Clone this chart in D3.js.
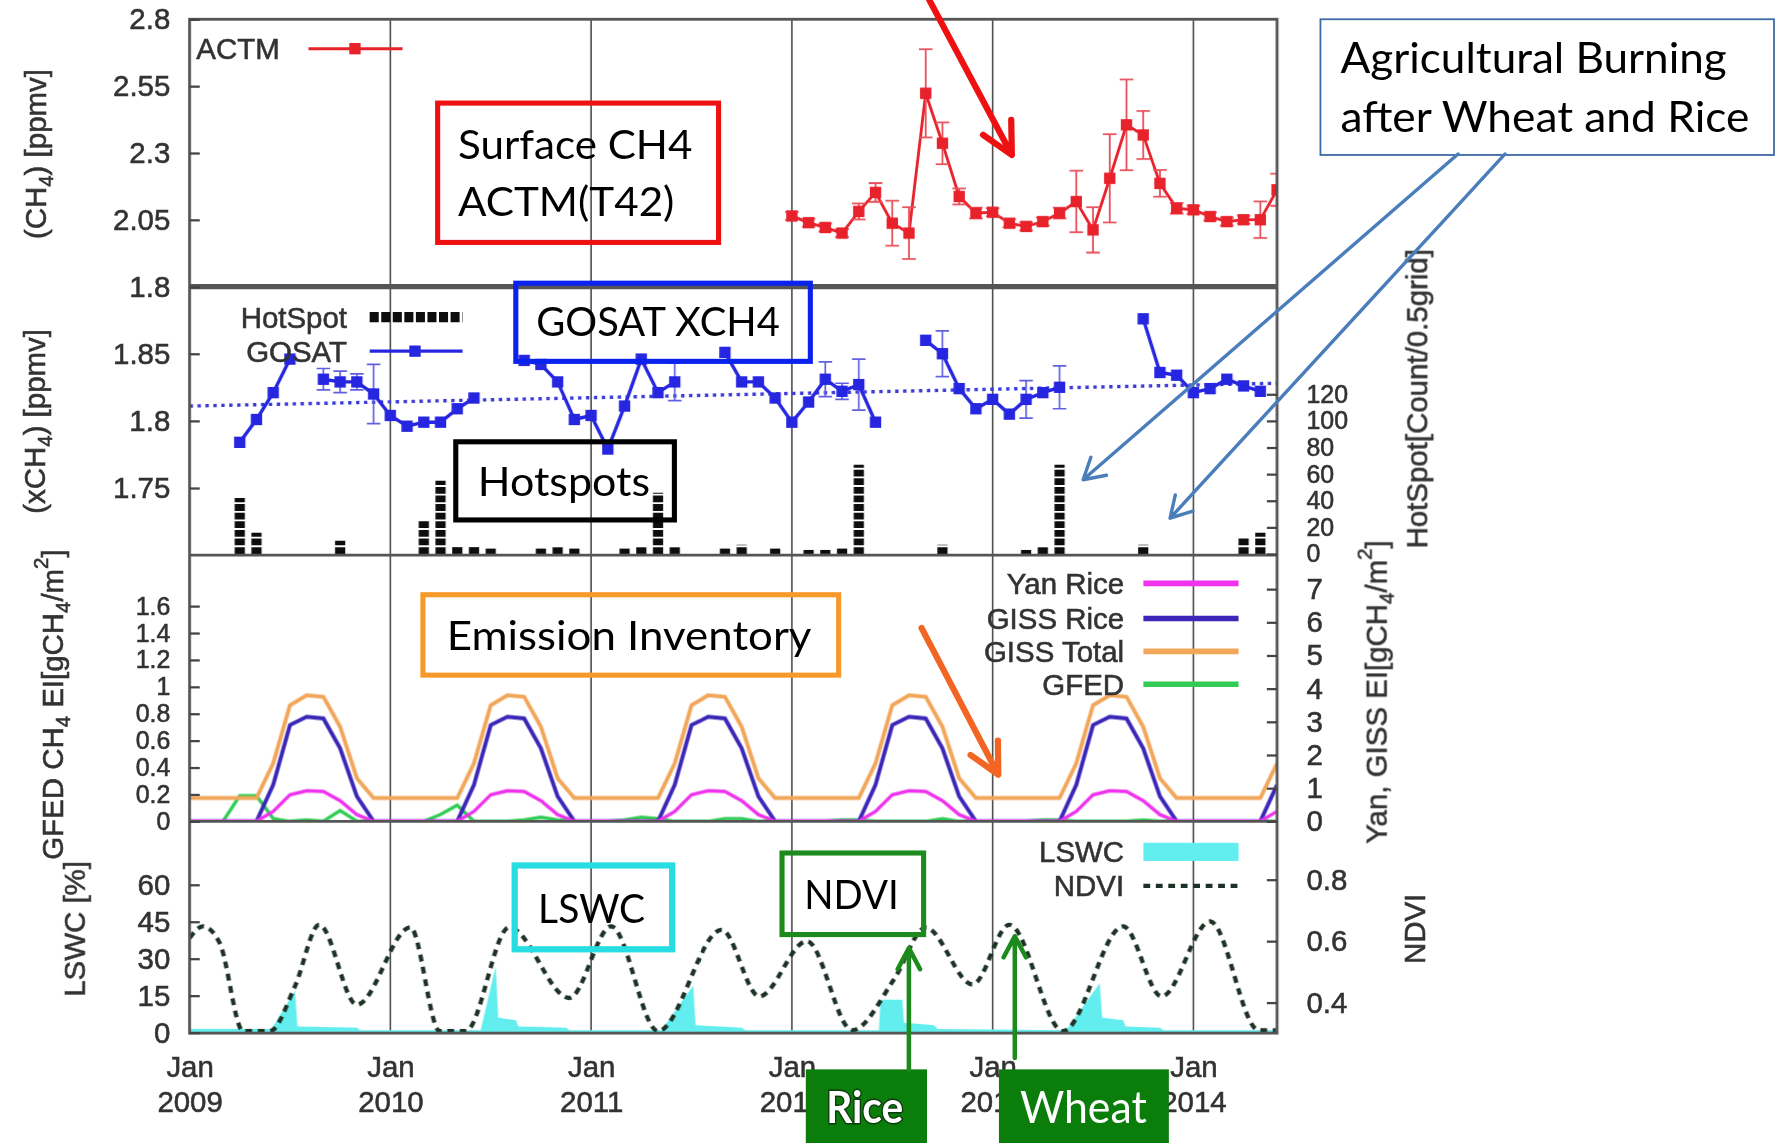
<!DOCTYPE html>
<html>
<head>
<meta charset="utf-8">
<script src="https://cdn.jsdelivr.net/npm/d3@7"></script>
<style>
  body { margin: 0; background: #fff; }
  svg { display: block; }
  .axis text, .lbl { font-family: "Liberation Sans", Arial, sans-serif; font-size: 26px; fill: #333; stroke: #333; stroke-width: 0.5px; }
  .axis line { stroke: #444; stroke-width: 2; }
  .tight-axis text { font-size: 22px; }
  .note { font-family: Lato, "Open Sans", sans-serif; fill: #000; }
</style>
</head>
<body>
<svg id="chart"></svg>
<script>
// x is counted in months from Jan 2009 (0 = Jan 2009, 60 = Jan 2014)
const yearTicks = [0, 12, 24, 36, 48, 60];
const yearLabels = ["2009", "2010", "2011", "2012", "2013", "2014"];

// surface CH4 from ACTM, monthly from Jan 2012
const actmStart = 36;
const actmValues = [2.064, 2.039, 2.021, 2.000, 2.081, 2.152, 2.037, 2.000, 2.523, 2.336,
  2.137, 2.075, 2.078, 2.037, 2.025, 2.043, 2.075, 2.118, 2.012, 2.205,
  2.405, 2.367, 2.186, 2.093, 2.087, 2.062, 2.043, 2.050, 2.050, 2.162];
const actmErr = [0.015, 0.015, 0.015, 0.015, 0.03, 0.035, 0.084, 0.097, 0.165, 0.078,
  0.03, 0.02, 0.015, 0.015, 0.015, 0.015, 0.02, 0.115, 0.085, 0.165,
  0.17, 0.09, 0.05, 0.02, 0.015, 0.015, 0.015, 0.015, 0.068, 0.06];

// GOSAT XCH4, monthly from Jan 2009 (null = no retrieval)
const gosatValues = [null, null, null, 1.784, 1.801, 1.821, 1.846, null, 1.831, 1.829, 1.829, 1.820,
  1.804, 1.796, 1.799, 1.799, 1.809, 1.817, null, null, 1.845, 1.842, 1.829, 1.801,
  1.804, 1.779, 1.811, 1.846, 1.821, 1.829, null, null, 1.851, 1.829, 1.829, 1.817,
  1.799, 1.814, 1.831, 1.822, 1.827, 1.799, null, null, 1.860, 1.850, 1.824, 1.809,
  1.816, 1.805, 1.816, 1.821, 1.825, null, null, null, null, 1.876, 1.836, 1.834,
  1.821, 1.824, 1.831, 1.826, 1.822];
const gosatErr = [0, 0, 0, 0.003, 0.003, 0.003, 0.003, 0, 0.008, 0.008, 0.006, 0.022,
  0.004, 0.003, 0.003, 0.003, 0.003, 0.003, 0, 0, 0.004, 0.004, 0.004, 0.003,
  0.003, 0.003, 0.003, 0.004, 0.004, 0.014, 0, 0, 0.004, 0.004, 0.004, 0.003,
  0.003, 0.004, 0.013, 0.006, 0.019, 0.003, 0, 0, 0.004, 0.017, 0.004, 0.003,
  0.004, 0.004, 0.014, 0.005, 0.016, 0, 0, 0, 0, 0.004, 0.004, 0.004,
  0.004, 0.004, 0.004, 0.004, 0.004];
const gosatTrendMonths = [0, 65];
const gosatTrend = [1.811, 1.828];

// hotspot counts, monthly from Jan 2009
const hotspotValues = [0, 0, 0, 42, 16, 0, 0, 0, 0, 10, 0, 0,
  0, 0, 25, 55, 6, 6, 4, 0, 0, 4, 5, 4,
  0, 0, 4, 5, 46, 5, 0, 0, 4, 7, 0, 4,
  0, 3, 3, 4, 67, 0, 0, 0, 0, 7, 0, 0,
  0, 0, 3, 5, 67, 0, 0, 0, 0, 7, 0, 0,
  0, 0, 0, 12, 16];

// emission inventories, monthly from Jan 2009 to Jun 2014
const yanRice = [0, 0, 0, 0, 0, 0.3, 0.8, 0.92, 0.9, 0.62, 0.2, 0,
  0, 0, 0, 0, 0, 0.3, 0.8, 0.92, 0.9, 0.62, 0.2, 0,
  0, 0, 0, 0, 0, 0.3, 0.8, 0.92, 0.9, 0.62, 0.2, 0,
  0, 0, 0, 0, 0, 0.3, 0.8, 0.92, 0.9, 0.62, 0.2, 0,
  0, 0, 0, 0, 0, 0.3, 0.8, 0.92, 0.9, 0.62, 0.2, 0,
  0, 0, 0, 0, 0, 0.3];
const gissRice = [0, 0, 0, 0, 0, 1.1, 2.9, 3.15, 3.1, 2.2, 0.75, 0,
  0, 0, 0, 0, 0, 1.1, 2.9, 3.15, 3.1, 2.2, 0.75, 0,
  0, 0, 0, 0, 0, 1.1, 2.9, 3.15, 3.1, 2.2, 0.75, 0,
  0, 0, 0, 0, 0, 1.1, 2.9, 3.15, 3.1, 2.2, 0.75, 0,
  0, 0, 0, 0, 0, 1.1, 2.9, 3.15, 3.1, 2.2, 0.75, 0,
  0, 0, 0, 0, 0, 1.1];
const gissTotal = [0.7, 0.7, 0.7, 0.7, 0.7, 1.75, 3.5, 3.8, 3.75, 2.85, 1.3, 0.7,
  0.7, 0.7, 0.7, 0.7, 0.7, 1.75, 3.5, 3.8, 3.75, 2.85, 1.3, 0.7,
  0.7, 0.7, 0.7, 0.7, 0.7, 1.75, 3.5, 3.8, 3.75, 2.85, 1.3, 0.7,
  0.7, 0.7, 0.7, 0.7, 0.7, 1.75, 3.5, 3.8, 3.75, 2.85, 1.3, 0.7,
  0.7, 0.7, 0.7, 0.7, 0.7, 1.75, 3.5, 3.8, 3.75, 2.85, 1.3, 0.7,
  0.7, 0.7, 0.7, 0.7, 0.7, 1.75];
const gfed = [0, 0, 0, 0.19, 0.19, 0.02, 0, 0.01, 0, 0.08, 0, 0,
  0, 0, 0, 0.05, 0.12, 0, 0, 0, 0.01, 0.03, 0.01, 0,
  0, 0, 0.01, 0.03, 0.02, 0, 0, 0, 0.02, 0.02, 0, 0,
  0, 0, 0, 0.01, 0.01, 0, 0, 0, 0, 0.02, 0, 0,
  0, 0, 0, 0.01, 0.01, 0, 0, 0, 0, 0.01, 0, 0,
  0, 0, 0, 0, 0, 0];

// vegetation: NDVI and LSWC curve vertices (month, value)
const ndviMonths = [0, 0.8, 1.8, 3.2, 4.8, 6.3, 7.75, 10.0, 13.2, 14.95, 16.5, 19.1, 22.7, 25.2,
  28.0, 31.8, 34.05, 36.9, 39.6, 42.1, 44.0, 46.8, 49.0, 52.2, 55.8, 58.1, 61.0, 63.9, 64.95];
const ndviValues = [0.61, 0.648, 0.594, 0.307, 0.307, 0.453, 0.653, 0.393, 0.645, 0.307, 0.307, 0.645, 0.415, 0.648,
  0.307, 0.637, 0.42, 0.6, 0.31, 0.475, 0.644, 0.459, 0.653, 0.307, 0.648, 0.42, 0.664, 0.31, 0.31];
const lswcMonths = [0, 4.9, 6.3, 6.45, 10.0, 10.2, 17.4, 18.3, 18.45, 19.5, 19.65, 22.5, 22.7, 28.2,
  30.1, 30.25, 33.0, 33.2, 41.2, 41.3, 42.6, 42.7, 44.5, 44.7, 52.4, 54.4, 54.55, 55.8, 55.95, 58.0, 58.2, 65];
const lswcValues = [1.5, 1.5, 17, 2.5, 2, 1, 1, 27, 6, 5, 2.5, 2, 1, 1,
  19, 3, 2, 1, 1, 13.4, 13.4, 4, 3, 1.5, 1, 20, 6, 5, 2.5, 2, 1, 1];

// tick values
const actmTicks = [1.8, 2.05, 2.3, 2.55, 2.8];
const gosatTicks = [1.75, 1.8, 1.85];
const hotTicks = [0, 20, 40, 60, 80, 100, 120];
const gfedTicks = [0, 0.2, 0.4, 0.6, 0.8, 1, 1.2, 1.4, 1.6];
const eiTicks = [0, 1, 2, 3, 4, 5, 6, 7];
const lswcTicks = [0, 15, 30, 45, 60];
const ndviTicks = [0.4, 0.6, 0.8];

// drawing is done in the 1568x1009 frame and scaled up to the window
const W = 1568, H = 1009;
const left = 167, right = 1127;
const svg = d3.select("#chart")
  .attr("width", 1777).attr("height", 1143)
  .attr("viewBox", `0 0 ${W} ${H}`);

const defs = svg.append("defs");
defs.append("filter").attr("id", "soft")
  .append("feGaussianBlur").attr("stdDeviation", 0.6);

const panels = { actm: [17, 253], gosat: [253, 490], ei: [490, 725], veg: [725, 912] };
Object.entries(panels).forEach(([k, [t, b]]) => {
  defs.append("clipPath").attr("id", "clip-" + k)
    .append("rect").attr("x", left).attr("y", t).attr("width", right - left).attr("height", b - t);
});

const x = d3.scaleLinear().domain([0, 65]).range([left, right]);
const yActm = d3.scaleLinear().domain([1.8, 2.8]).range([253, 17]);
const yGosat = d3.scaleLinear().domain([1.70, 1.90]).range([490, 253]);
const yHot = d3.scaleLinear().domain([0, 120]).range([489, 348]);
const yGfed = d3.scaleLinear().domain([0, 1.6]).range([725, 535]);
const yEi = d3.scaleLinear().domain([0, 7]).range([725, 520]);
const yLswc = d3.scaleLinear().domain([0, 60]).range([911.5, 781]);
const yNdvi = d3.scaleLinear().domain([0.4, 0.8]).range([885, 776.5]);

const g = svg.append("g").attr("filter", "url(#soft)");

// year grid lines
g.selectAll(".grid").data(yearTicks.slice(1)).enter().append("line")
  .attr("x1", d => x(d)).attr("x2", d => x(d))
  .attr("y1", 17).attr("y2", 912)
  .attr("stroke", "#4a4a4a").attr("stroke-width", 1.4);

// ---- vegetation panel (drawn first, under the frame)
const veg = g.append("g").attr("clip-path", "url(#clip-veg)");
const lswcPts = lswcMonths.map((m, i) => [m, lswcValues[i]]);
veg.append("path").datum(lswcPts)
  .attr("fill", "#62eeee")
  .attr("d", d3.area().x(d => x(d[0])).y0(yLswc(0)).y1(d => yLswc(d[1])));
const ndviPts = ndviMonths.map((m, i) => [m, ndviValues[i]]);
veg.append("path").datum(ndviPts)
  .attr("fill", "none").attr("stroke", "#1f3326").attr("stroke-width", 3.8)
  .attr("stroke-dasharray", "6,5")
  .attr("d", d3.line().curve(d3.curveMonotoneX).x(d => x(d[0])).y(d => yNdvi(d[1])));

// ---- emission panel
const ei = g.append("g").attr("clip-path", "url(#clip-ei)");
const eiLine = d3.line().x((d, i) => x(i)).y(d => yEi(d));
ei.append("path").datum(gfed).attr("fill", "none").attr("stroke", "#33cc55").attr("stroke-width", 3)
  .attr("d", d3.line().x((d, i) => x(i)).y(d => yGfed(d)));
ei.append("path").datum(gissTotal).attr("fill", "none").attr("stroke", "#f2a65a").attr("stroke-width", 3.5).attr("d", eiLine);
ei.append("path").datum(gissRice).attr("fill", "none").attr("stroke", "#3a28b8").attr("stroke-width", 3.5).attr("d", eiLine);
ei.append("path").datum(yanRice).attr("fill", "none").attr("stroke", "#ee33ee").attr("stroke-width", 3).attr("d", eiLine);

// ---- GOSAT / hotspot panel
const gp = g.append("g").attr("clip-path", "url(#clip-gosat)");
gp.selectAll(".hot").data(hotspotValues.map((v, i) => [i, v]).filter(d => d[1] > 0)).enter().append("line")
  .attr("x1", d => x(d[0])).attr("x2", d => x(d[0]))
  .attr("y1", yHot(0)).attr("y2", d => yHot(d[1]))
  .attr("stroke", "#111").attr("stroke-width", 9).attr("stroke-dasharray", "6,1.6");
gp.append("line")
  .attr("x1", x(gosatTrendMonths[0])).attr("x2", x(gosatTrendMonths[1]))
  .attr("y1", yGosat(gosatTrend[0])).attr("y2", yGosat(gosatTrend[1]))
  .attr("stroke", "#3b3bd8").attr("stroke-width", 3).attr("stroke-dasharray", "3,4");
const gosatPts = gosatValues.map((v, i) => [i, v, gosatErr[i]]);
gp.append("path").datum(gosatPts)
  .attr("fill", "none").attr("stroke", "#2626e0").attr("stroke-width", 3)
  .attr("d", d3.line().defined(d => d[1] != null).x(d => x(d[0])).y(d => yGosat(d[1])));
const gv = gosatPts.filter(d => d[1] != null);
gp.selectAll(".gerr").data(gv.filter(d => d[2] > 0.005)).enter().append("path")
  .attr("fill", "none").attr("stroke", "#6060e0").attr("stroke-width", 1.5)
  .attr("d", d => {
    const cx = x(d[0]), a = yGosat(d[1] + d[2]), b = yGosat(d[1] - d[2]);
    return `M${cx},${a}V${b}M${cx - 6},${a}H${cx + 6}M${cx - 6},${b}H${cx + 6}`;
  });
gp.selectAll(".gpt").data(gv).enter().append("rect")
  .attr("x", d => x(d[0]) - 5).attr("y", d => yGosat(d[1]) - 5)
  .attr("width", 10).attr("height", 10).attr("fill", "#2626e0");

// ---- ACTM panel
const ap = g.append("g").attr("clip-path", "url(#clip-actm)");
const actmPts = actmValues.map((v, i) => [actmStart + i, v, actmErr[i]]);
ap.append("path").datum(actmPts)
  .attr("fill", "none").attr("stroke", "#e8202a").attr("stroke-width", 2.5)
  .attr("d", d3.line().x(d => x(d[0])).y(d => yActm(d[1])));
ap.selectAll(".aerr").data(actmPts).enter().append("path")
  .attr("fill", "none").attr("stroke", "#e8505a").attr("stroke-width", 1.6)
  .attr("d", d => {
    const cx = x(d[0]), a = yActm(d[1] + d[2]), b = yActm(d[1] - d[2]);
    return `M${cx},${a}V${b}M${cx - 6},${a}H${cx + 6}M${cx - 6},${b}H${cx + 6}`;
  });
ap.selectAll(".apt").data(actmPts).enter().append("rect")
  .attr("x", d => x(d[0]) - 5).attr("y", d => yActm(d[1]) - 5)
  .attr("width", 10).attr("height", 10).attr("fill", "#e8202a");

// ---- frame
g.append("rect").attr("x", left).attr("y", 17).attr("width", right - left).attr("height", 912 - 17)
  .attr("fill", "none").attr("stroke", "#555").attr("stroke-width", 2.5);
[[253, 4.5], [490, 2.5], [725, 2.5]].forEach(([yy, w]) => {
  g.append("line").attr("x1", left).attr("x2", right).attr("y1", yy).attr("y2", yy)
    .attr("stroke", "#555").attr("stroke-width", w);
});

// ---- axes
function leftAxis(scale, ticks) {
  const a = g.append("g").attr("class", "axis").attr("transform", `translate(${left},0)`)
    .call(d3.axisLeft(scale).tickValues(ticks).tickFormat(d => String(d)).tickSize(-9).tickPadding(17));
  a.select(".domain").remove();
  return a;
}
function rightAxis(scale, ticks) {
  const a = g.append("g").attr("class", "axis").attr("transform", `translate(${right},0)`)
    .call(d3.axisRight(scale).tickValues(ticks).tickFormat(d => String(d)).tickSize(-9).tickPadding(26));
  a.select(".domain").remove();
  return a;
}
leftAxis(yActm, actmTicks);
leftAxis(yGosat, gosatTicks);
leftAxis(yGfed, gfedTicks).classed("tight-axis", true);
leftAxis(yLswc, lswcTicks);
rightAxis(yHot, hotTicks).classed("tight-axis", true);
rightAxis(yEi, eiTicks);
rightAxis(yNdvi, ndviTicks);

const xa = g.append("g").attr("class", "axis").attr("transform", "translate(0,912)")
  .call(d3.axisBottom(x).tickValues(yearTicks).tickSize(0));
xa.select(".domain").remove();
xa.selectAll(".tick text").attr("dy", null).text(null).each(function (d, i) {
  const t = d3.select(this);
  t.append("tspan").attr("x", 0).attr("y", 39).text("Jan");
  t.append("tspan").attr("x", 0).attr("y", 70).text(yearLabels[i]);
});

// ---- axis titles (rotated)
function vlabel(cx, cy, parts) {
  const t = g.append("text").attr("class", "lbl")
    .attr("transform", `translate(${cx},${cy}) rotate(-90)`)
    .attr("text-anchor", "middle").attr("dominant-baseline", "central");
  parts.forEach(p => {
    const s = t.append("tspan").text(p[0]);
    if (p[1]) s.attr("baseline-shift", p[1]).attr("font-size", 18);
  });
}
vlabel(31, 136, [["(CH"], ["4", "sub"], [") [ppmv]"]]);
vlabel(30, 372, [["(xCH"], ["4", "sub"], [") [ppmv]"]]);
vlabel(46, 622, [["GFED CH"], ["4", "sub"], [" EI[gCH"], ["4", "sub"], ["/m"], ["2", "super"], ["]"]]);
vlabel(65, 820, [["LSWC [%]"]]);
vlabel(1250, 352, [["HotSpot[Count/0.5grid]"]]);
vlabel(1214, 611, [["Yan, GISS EI[gCH"], ["4", "sub"], ["/m"], ["2", "super"], ["]"]]);
vlabel(1248, 820, [["NDVI"]]);

// ---- legends
function legText(xr, yc, s) {
  g.append("text").attr("class", "lbl").attr("x", xr).attr("y", yc)
    .attr("text-anchor", "end").attr("dominant-baseline", "central").text(s);
}
g.append("text").attr("class", "lbl").attr("x", 173).attr("y", 43)
  .attr("dominant-baseline", "central").text("ACTM");
g.append("line").attr("x1", 272).attr("x2", 355).attr("y1", 43).attr("y2", 43)
  .attr("stroke", "#e8202a").attr("stroke-width", 2.5);
g.append("rect").attr("x", 308).attr("y", 38).attr("width", 10).attr("height", 10).attr("fill", "#e8202a");

legText(306, 280, "HotSpot");
g.append("line").attr("x1", 326).attr("x2", 408).attr("y1", 280).attr("y2", 280)
  .attr("stroke", "#111").attr("stroke-width", 9).attr("stroke-dasharray", "8,2.2");
legText(306, 310, "GOSAT");
g.append("line").attr("x1", 326).attr("x2", 408).attr("y1", 310).attr("y2", 310)
  .attr("stroke", "#2626e0").attr("stroke-width", 3);
g.append("rect").attr("x", 361).attr("y", 305).attr("width", 10).attr("height", 10).attr("fill", "#2626e0");

const eiLegend = [["Yan Rice", "#ee33ee", 515], ["GISS Rice", "#3a28b8", 546], ["GISS Total", "#f2a65a", 575], ["GFED", "#33cc55", 604]];
eiLegend.forEach(([s, c, yy]) => {
  legText(992, yy, s);
  g.append("line").attr("x1", 1009).attr("x2", 1093).attr("y1", yy).attr("y2", yy)
    .attr("stroke", c).attr("stroke-width", 5);
});
legText(992, 752, "LSWC");
g.append("rect").attr("x", 1009).attr("y", 744).attr("width", 84).attr("height", 16).attr("fill", "#62eeee");
legText(992, 782, "NDVI");
g.append("line").attr("x1", 1009).attr("x2", 1093).attr("y1", 782).attr("y2", 782)
  .attr("stroke", "#1f3326").attr("stroke-width", 3.8).attr("stroke-dasharray", "6,5");

// ---- slide annotations on top
const ann = svg.append("g");
function box(x0, y0, x1, y1, color, w) {
  ann.append("rect").attr("x", x0).attr("y", y0).attr("width", x1 - x0).attr("height", y1 - y0)
    .attr("fill", "none").attr("stroke", color).attr("stroke-width", w);
}
function note(s, x0, y0, len, size, opts = {}) {
  const t = ann.append("text").attr("class", "note").attr("x", x0).attr("y", y0)
    .attr("font-size", size).attr("textLength", len).attr("lengthAdjust", "spacingAndGlyphs").text(s);
  if (opts.fill) t.style("fill", opts.fill);
  if (opts.bold) t.attr("font-weight", 700);
  if (opts.stroke) t.attr("stroke", opts.stroke).attr("stroke-width", 2.5).attr("paint-order", "stroke");
  return t;
}
function arrow(x1, y1, x2, y2, color, w, head, spread) {
  const ang = Math.atan2(y1 - y2, x1 - x2), s = spread * Math.PI / 180;
  const w1 = [x2 + head * Math.cos(ang - s), y2 + head * Math.sin(ang - s)];
  const w2 = [x2 + head * Math.cos(ang + s), y2 + head * Math.sin(ang + s)];
  ann.append("path").attr("fill", "none").attr("stroke", color).attr("stroke-width", w)
    .attr("stroke-linecap", "round").attr("stroke-linejoin", "round")
    .attr("d", `M${x1},${y1}L${x2},${y2}M${w1[0]},${w1[1]}L${x2},${y2}L${w2[0]},${w2[1]}`);
}

box(386, 91, 634, 214, "#ee1111", 4.5);
note("Surface CH4", 404, 140, 207, 35);
note("ACTM(T42)", 404, 191, 191, 35);

box(455, 250, 715, 319, "#0a22ee", 4.5);
note("GOSAT XCH4", 473, 297, 215, 35);

box(402, 390, 595, 459, "#000", 4.5);
note("Hotspots", 421.5, 438, 152, 35);

box(373, 525, 740, 596, "#f7992a", 4.5);
note("Emission Inventory", 394, 573.5, 322, 35);

box(454, 764, 593, 838, "#26dde4", 5.5);
note("LSWC", 474.7, 814.7, 94.5, 35);

box(690, 753, 815, 825, "#1c8a1c", 4.5);
note("NDVI", 709.6, 802.4, 83.4, 35);

ann.append("rect").attr("x", 1165.3).attr("y", 17).attr("width", 400.4).attr("height", 119.8)
  .attr("fill", "#fff").attr("stroke", "#3e6aa4").attr("stroke-width", 1.6);
note("Agricultural Burning", 1183, 64.7, 341, 37);
note("after Wheat and Rice", 1183, 116.2, 361, 37);

ann.append("rect").attr("x", 711).attr("y", 944).attr("width", 107).attr("height", 65).attr("fill", "#0a7d0a");
note("Rice", 729, 991, 68, 39, { fill: "#fff", bold: true, stroke: "#0c3a0c" });
ann.append("rect").attr("x", 881.5).attr("y", 944).attr("width", 150).attr("height", 65).attr("fill", "#0a7d0a");
note("Wheat", 900, 991, 112, 39, { fill: "#fff" });

arrow(802, 944, 802, 837, "#1c8a1c", 4, 21, 28);
arrow(895.5, 934, 895.5, 826.5, "#1c8a1c", 4, 21, 28);
arrow(820, 0, 892.9, 136.8, "#ee1111", 5.5, 31, 27);
arrow(813.2, 554.4, 880.9, 683.8, "#f26522", 5.5, 30, 27);
arrow(1286.8, 135.9, 955.8, 423.5, "#4a7ebb", 3, 21, 30);
arrow(1328.3, 135.9, 1032.6, 457.4, "#4a7ebb", 3, 21, 30);
</script>
</body>
</html>
